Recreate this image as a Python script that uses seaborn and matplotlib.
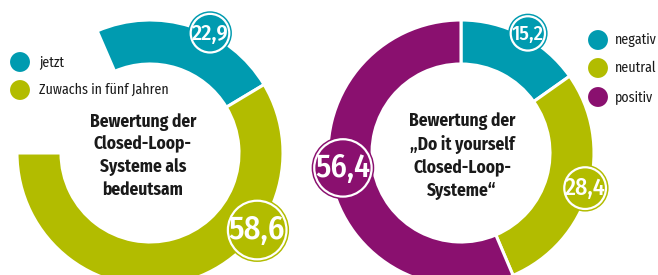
import numpy as np
import pandas as pd
import seaborn as sns
import matplotlib
matplotlib.use("Agg")
import matplotlib.pyplot as plt
from matplotlib.patches import Circle

sns.set_theme(style="white")
plt.rcParams['font.family'] = ['Fira Sans Condensed', 'Asap Condensed', 'DejaVu Sans']

# colours
teal = '#009bb0'
olive = '#b2bc00'
purple = '#8a106f'

# data
left_labels = ['jetzt', 'Zuwachs in fünf Jahren']
left_values = [22.9, 58.6]
left_colors = [teal, olive]
left_title = 'Bewertung der\nClosed-Loop-\nSysteme als\nbedeutsam'

right_labels = ['negativ', 'neutral', 'positiv']
right_values = [15.2, 28.4, 56.4]
right_colors = [teal, olive, purple]
right_title = 'Bewertung der\n„Do it yourself\nClosed-Loop-\nSysteme“'

W, H = 658, 275
fig = plt.figure(figsize=(W / 100, H / 100), dpi=100)
ax = fig.add_axes([0, 0, 1, 1])

R_OUT, RING = 133, 44


def fmt(v):
    return f'{v:.1f}'.replace('.', ',')


def donut(values, colors, cx, cy, start):
    frac = [v / 100 for v in values]
    ax.pie(frac, colors=colors, normalize=False, radius=R_OUT, center=(cx, H - cy),
           startangle=start, counterclock=False,
           wedgeprops=dict(width=RING, edgecolor='white', linewidth=2.2))


def bubble(value, color, cx, cy, angle, dist):
    # label bubble sitting on the ring; size grows with the value
    r = 15.5 + 0.28 * value
    a = np.deg2rad(angle)
    x = cx + dist * np.sin(a)
    y = H - (cy - dist * np.cos(a))
    ax.add_patch(Circle((x, y), r, fc=color, ec=color, lw=0, zorder=5))
    ax.add_patch(Circle((x, y), r - 2.6, fc='none', ec='white', lw=1.6, zorder=6))
    ax.text(x, y - 0.5, fmt(value), color='white', ha='center', va='center',
            fontsize=r * 0.74, fontweight='medium', zorder=7)


# left donut: the ring stays open, ends at 9 o'clock
lcx, lcy = 150, 153
lstart = 180 + 360 * sum(left_values) / 100
donut(left_values, left_colors, lcx, lcy, lstart)

# right donut: full ring from 12 o'clock
rcx, rcy = 461, 153
donut(right_values, right_colors, rcx, rcy, 90)

# bubbles (angle clockwise from top, distance from centre)
bubble(left_values[0], teal, lcx, lcy, 26.6, 134)
bubble(left_values[1], olive, lcx, lcy, 125.7, 132)
bubble(right_values[0], teal, rcx, rcy, 29.2, 137)
bubble(right_values[1], olive, rcx, rcy, 105.8, 129)
bubble(right_values[2], purple, rcx, rcy, 262.8, 119)

# centre titles
ax.text(143, H - 156, left_title, ha='center', va='center', fontsize=12.5,
        fontweight='bold', color='#1a1a1a', linespacing=1.35)
ax.text(462, H - 156, right_title, ha='center', va='center', fontsize=12.5,
        fontweight='bold', color='#1a1a1a', linespacing=1.35)

# legends
leg = pd.DataFrame({
    'x': [20, 20, 598, 598, 598],
    'y': [H - 62, H - 90, H - 40, H - 68, H - 97],
    'label': left_labels + right_labels,
})
leg_colors = left_colors + right_colors
sns.scatterplot(data=leg, x='x', y='y', hue='label', palette=leg_colors,
                s=205, linewidth=0, legend=False, ax=ax, zorder=8)
for _, row in leg.iterrows():
    tx = 39 if row['x'] < W / 2 else 615
    ax.text(tx, row['y'] + 0.5, row['label'], ha='left', va='center',
            fontsize=10, color='#1a1a1a')

ax.set_xlim(0, W)
ax.set_ylim(0, H)
ax.set_aspect('equal')
ax.axis('off')

plt.savefig('out.png', dpi=100)
plt.close()
